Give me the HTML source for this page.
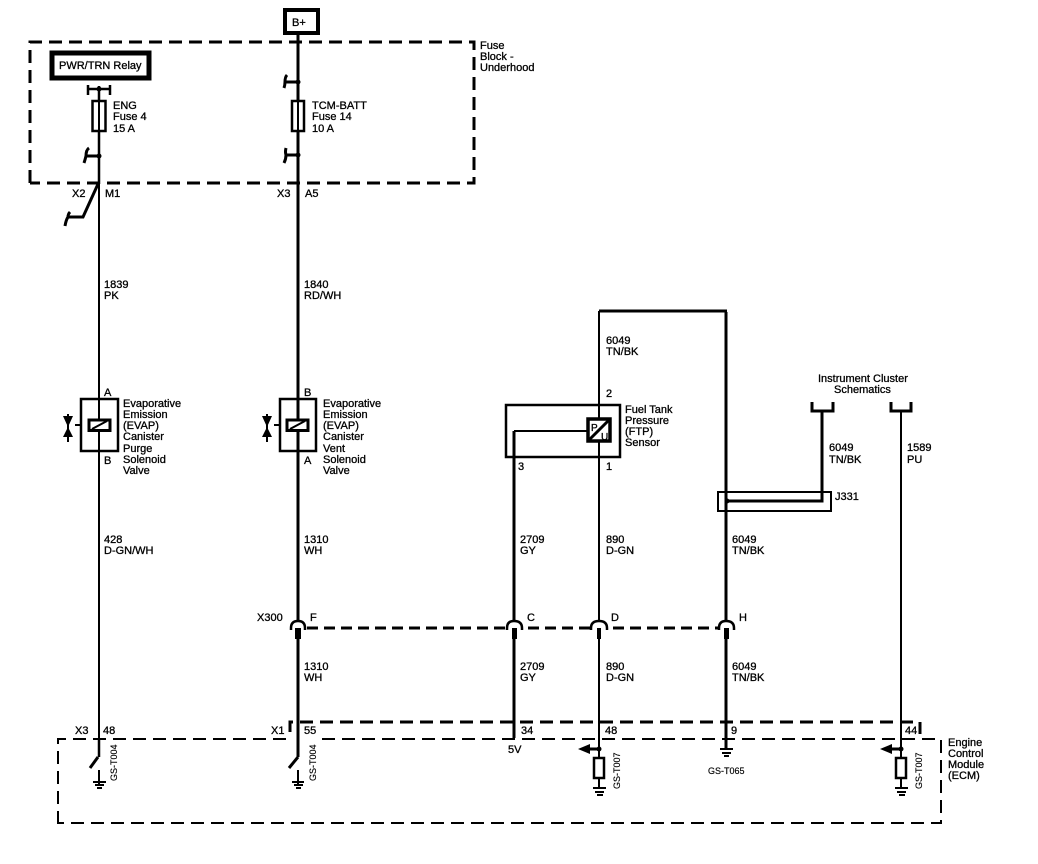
<!DOCTYPE html>
<html><head><meta charset="utf-8"><style>
html,body{margin:0;padding:0;background:#fff;width:1038px;height:864px;overflow:hidden}
svg{display:block}
text{font-family:"Liberation Sans",sans-serif;font-size:11px;fill:#000;stroke:#000;stroke-width:.3px}
</style></head><body>
<svg width="1038" height="864" viewBox="0 0 1038 864" xmlns="http://www.w3.org/2000/svg">
<rect width="1038" height="864" fill="#fff"/>
<g fill="none" stroke="#000" stroke-width="2">
<!-- dashed boxes -->
<path d="M30 183V42H474V183H30" stroke-width="3" stroke-dasharray="13 7"/>
<path d="M58 824V739H289M322 739H941V823H58" stroke-width="2" stroke-dasharray="13 7"/>
<path d="M290 732V722H920V734" stroke-width="3" stroke-dasharray="13 7"/>
<path d="M307 628H726" stroke-width="3" stroke-dasharray="11 6"/>
<!-- B+ / relay -->
<rect x="285" y="10" width="33" height="23" stroke-width="4"/>
<rect x="52" y="53" width="97" height="25" stroke-width="5"/>
<!-- main wires -->
<path d="M99 86V184" stroke-width="2.500"/>
<path d="M99 184V739"/>
<path d="M298 33V621" stroke-width="3"/>
<path d="M298 636V757" stroke-width="3"/>
<path d="M99 739V757" stroke-width="2.500"/>
<path d="M726 312V621" stroke-width="3"/>
<path d="M726 636V748" stroke-width="3"/>
<path d="M599 311V621"/>
<path d="M599 636V760"/>
<path d="M599 311H727" stroke-width="3"/>
<path d="M514 431V621" stroke-width="3"/>
<path d="M514 636V738" stroke-width="3"/>
<path d="M514 431H590" stroke-width="2"/>
<path d="M901 411V760"/>
<!-- relay contact -->
<path d="M88 85V95M110 85V95" stroke-width="2.500"/>
<path d="M88 89H110" stroke-width="2.500"/>
<!-- fuses -->
<rect x="92.500" y="101" width="13" height="30" fill="#fff" stroke-width="2.500"/>
<rect x="292" y="101" width="12" height="30" fill="#fff" stroke-width="2.500"/>
<path d="M99 101V131M298 101V131"/>
<!-- fuse terminals -->
<path d="M99 156H86Q86 150 89 148M86 156Q85 160 84 163" stroke-width="3"/>
<path d="M298 82H285Q285 77 287 75M285 82Q285 85 284 88" stroke-width="3"/>
<path d="M298 155H286Q285 152 286 148M286 155Q286 159 284 163" stroke-width="3"/>
<!-- switch X2 -->
<path d="M98 184L83 217H68Q66 220 65 226M68 217Q68 214 70 212" stroke-width="3"/>
<!-- solenoids -->
<rect x="81" y="399" width="37" height="52" stroke-width="2.500"/>
<rect x="280" y="399" width="36" height="52" stroke-width="2.500"/>
<rect x="89" y="420" width="21" height="10.500" fill="#fff" stroke-width="3"/>
<rect x="287" y="420" width="21" height="10.500" fill="#fff" stroke-width="3"/>
<path d="M92 429L107 421M290 429L305 421" stroke-width="2"/>
<path d="M75 425H81M274 425H280" stroke-width="2"/>
<path d="M68 414V442M267 414V442" stroke-width="2"/>
<!-- FTP -->
<rect x="506" y="405" width="114" height="52" stroke-width="2.500"/>
<rect x="588" y="419" width="22" height="22" fill="#fff" stroke-width="3.500"/>
<path d="M588 441L610 419" stroke-width="3"/>
<path d="M599 443V456"/>
<!-- J331 -->
<rect x="718" y="492" width="113" height="19" stroke-width="2"/>
<path d="M727 501H822V411" stroke-width="3"/>
<circle cx="727" cy="501" r="2.500" fill="#000" stroke="none"/>
<path d="M812 402V411H833V402" stroke-width="3"/>
<path d="M891 402V411H911V402" stroke-width="3"/>
<!-- inline connectors -->
<path d="M291 630V628Q291 621 298 621Q305 621 305 628V630" fill="#fff" stroke-width="2.500"/>
<path d="M507 630V628Q507 621 514 621Q522 621 522 628V630" fill="#fff" stroke-width="2.500"/>
<path d="M591 630V628Q591 621 599 621Q607 621 607 628V630" fill="#fff" stroke-width="2.500"/>
<path d="M719 630V628Q719 621 726 621Q734 621 734 628V630" fill="#fff" stroke-width="2.500"/>
<!-- bottom switches -->
<path d="M98 757L90 768" stroke-width="3"/>
<path d="M298 757L289 768" stroke-width="3"/>
<!-- grounds -->
<path d="M99 770V784M93 782H106M95 785H104M97 788H102" stroke-width="2"/>
<path d="M298 770V784M292 782H304M294 785H303M296 788H301" stroke-width="2"/>
<path d="M720 749H733M722 753H731M724 756H729" stroke-width="2"/>
<path d="M599 785V788M593 788H606M595 792H604M597 795H603" stroke-width="2"/>
<path d="M901 785V788M895 788H908M897 792H906M899 795H905" stroke-width="2"/>
<!-- pull resistors -->
<rect x="594" y="758" width="10" height="20" fill="#fff" stroke-width="2.500"/>
<rect x="896" y="758" width="10" height="20" fill="#fff" stroke-width="2.500"/>
<path d="M599 778V788M901 778V788M599 749V758M901 749V758"/>
<path d="M586 749H600M888 749H903" stroke-width="3"/>
</g>
<g fill="#000">
<rect x="295" y="628" width="6" height="11"/>
<rect x="512" y="628" width="5" height="11"/>
<rect x="597" y="628" width="4" height="11"/>
<rect x="724" y="628" width="5" height="11"/>
<polygon points="578,749 590,744 590,754"/>
<polygon points="880,749 892,744 892,754"/>
<circle cx="99" cy="89" r="2.500"/><circle cx="99" cy="156" r="2.500"/>
<circle cx="298" cy="82" r="2.500"/><circle cx="298" cy="155" r="2.500"/>
<circle cx="599" cy="749" r="2.500"/><circle cx="901" cy="749" r="2.500"/>
<polygon points="63,416 73,416 68,427"/><polygon points="63,437 73,437 68,427"/>
<polygon points="262,416 272,416 267,427"/><polygon points="262,437 272,437 267,427"/>
</g>
<g>
<text x="292" y="26">B+</text>
<text x="59" y="69">PWR/TRN Relay</text>
<text x="480" y="49">Fuse</text><text x="480" y="60">Block -</text><text x="480" y="71">Underhood</text>
<text x="113" y="109">ENG</text><text x="113" y="120">Fuse 4</text><text x="113" y="132">15 A</text>
<text x="312" y="109">TCM-BATT</text><text x="312" y="120">Fuse 14</text><text x="312" y="132">10 A</text>
<text x="72" y="197">X2</text><text x="105" y="197">M1</text>
<text x="277" y="197">X3</text><text x="305" y="197">A5</text>
<text x="104" y="288">1839</text><text x="104" y="299">PK</text>
<text x="304" y="288">1840</text><text x="304" y="299">RD/WH</text>
<text x="104" y="396">A</text><text x="104" y="464">B</text>
<text x="304" y="396">B</text><text x="304" y="464">A</text>
<text x="123" y="407">Evaporative</text><text x="123" y="418">Emission</text><text x="123" y="429">(EVAP)</text><text x="123" y="440">Canister</text><text x="123" y="452">Purge</text><text x="123" y="463">Solenoid</text><text x="123" y="474">Valve</text>
<text x="323" y="407">Evaporative</text><text x="323" y="418">Emission</text><text x="323" y="429">(EVAP)</text><text x="323" y="440">Canister</text><text x="323" y="452">Vent</text><text x="323" y="463">Solenoid</text><text x="323" y="474">Valve</text>
<text x="104" y="543">428</text><text x="104" y="554">D-GN/WH</text>
<text x="304" y="543">1310</text><text x="304" y="554">WH</text>
<text x="606" y="344">6049</text><text x="606" y="355">TN/BK</text>
<text x="606" y="397">2</text><text x="518" y="470">3</text><text x="606" y="470">1</text>
<text x="625" y="413">Fuel Tank</text><text x="625" y="424">Pressure</text><text x="625" y="435">(FTP)</text><text x="625" y="446">Sensor</text>
<text x="591" y="431" style="font-size:10px">P</text><text x="601" y="440" style="font-size:10px">U</text>
<text x="818" y="382">Instrument Cluster</text><text x="834" y="393">Schematics</text>
<text x="829" y="451">6049</text><text x="829" y="463">TN/BK</text>
<text x="907" y="451">1589</text><text x="907" y="463">PU</text>
<text x="835" y="500">J331</text>
<text x="520" y="543">2709</text><text x="520" y="554">GY</text>
<text x="606" y="543">890</text><text x="606" y="554">D-GN</text>
<text x="732" y="543">6049</text><text x="732" y="554">TN/BK</text>
<text x="257" y="621">X300</text><text x="310" y="621">F</text><text x="527" y="621">C</text><text x="611" y="621">D</text><text x="739" y="621">H</text>
<text x="304" y="670">1310</text><text x="304" y="681">WH</text>
<text x="520" y="670">2709</text><text x="520" y="681">GY</text>
<text x="606" y="670">890</text><text x="606" y="681">D-GN</text>
<text x="732" y="670">6049</text><text x="732" y="681">TN/BK</text>
<text x="75" y="734">X3</text><text x="103" y="734">48</text>
<text x="271" y="734">X1</text><text x="304" y="734">55</text>
<text x="521" y="734">34</text><text x="605" y="734">48</text><text x="731" y="734">9</text><text x="905" y="734">44</text>
<text x="508" y="753">5V</text>
<text x="948" y="746">Engine</text><text x="948" y="757">Control</text><text x="948" y="768">Module</text><text x="948" y="779">(ECM)</text>
<text x="708" y="774" style="font-size:9px;stroke-width:.15px">GS-T065</text>
<text transform="translate(117,781) rotate(-90)" style="font-size:9px;stroke-width:.15px">GS-T004</text>
<text transform="translate(316,781) rotate(-90)" style="font-size:9px;stroke-width:.15px">GS-T004</text>
<text transform="translate(620,789) rotate(-90)" style="font-size:9px;stroke-width:.15px">GS-T007</text>
<text transform="translate(922,789) rotate(-90)" style="font-size:9px;stroke-width:.15px">GS-T007</text>
</g>
</svg>
</body></html>
